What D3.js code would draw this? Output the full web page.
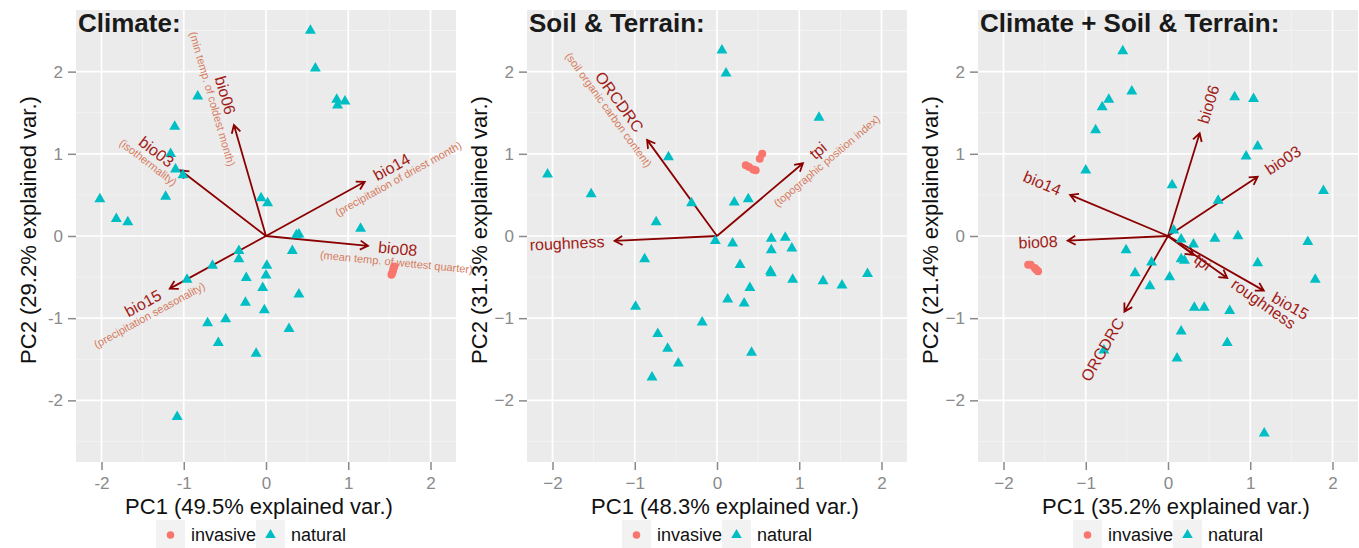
<!DOCTYPE html>
<html>
<head>
<meta charset="utf-8">
<script src="https://cdn.jsdelivr.net/npm/d3@7"></script>
<style>
  body { margin: 0; background: #fff; }
  svg { font-family: "Liberation Sans", Arial, sans-serif; }
</style>
</head>
<body>
<div id="chart"></div>
<script>
// ---- data ----
const panelTitles = ['Climate:', 'Soil & Terrain:', 'Climate + Soil & Terrain:'];
const pc1Titles = ['PC1 (49.5% explained var.)', 'PC1 (48.3% explained var.)', 'PC1 (35.2% explained var.)'];
const pc2Titles = ['PC2 (29.2% explained var.)', 'PC2 (31.3% explained var.)', 'PC2 (21.4% explained var.)'];
const tickValues = [-2, -1, 0, 1, 2];
const tickLabelsHyphen = ['-2', '-1', '0', '1', '2'];
const tickLabelsMinus = ['\u22122', '\u22121', '0', '1', '2'];
const groups = ['invasive', 'natural'];
const groupColors = ['#F8766D', '#00BFC4'];

const climateInvasive = [[1.56, -0.37], [1.55, -0.39], [1.545, -0.42], [1.535, -0.45], [1.525, -0.47]];
const climateNatural = [
    [0.54, 2.50], [0.60, 2.04], [0.86, 1.66], [0.96, 1.64], [0.87, 1.59], [-0.83, 1.70],
    [-1.11, 1.33], [-1.16, 1.00], [-1.10, 0.81], [-1.01, 0.74], [-1.22, 0.48], [-2.02, 0.45],
    [-1.82, 0.21], [-1.68, 0.17], [-0.06, 0.46], [0.02, 0.40], [1.15, 0.09], [0.37, 0.01],
    [0.40, 0.02], [0.32, -0.18], [-0.33, -0.18], [-0.33, -0.28], [-0.65, -0.36], [0.01, -0.36],
    [0.00, -0.48], [-0.24, -0.51], [-0.96, -0.53], [-0.04, -0.63], [0.40, -0.71], [-0.25, -0.81],
    [-0.02, -0.90], [-0.71, -1.06], [-0.49, -1.01], [0.28, -1.13], [-0.58, -1.30], [-0.12, -1.43],
    [-1.08, -2.20]
];
const climateArrows = [
    { name: 'bio06', desc: '(min temp. of coldest month)', x: -0.39, y: 1.35 },
    { name: 'bio03', desc: '(isothermality)', x: -1.04, y: 0.80 },
    { name: 'bio14', desc: '(precipitation of driest month)', x: 1.20, y: 0.66 },
    { name: 'bio08', desc: '(mean temp. of wettest quarter)', x: 1.24, y: -0.12 },
    { name: 'bio15', desc: '(precipitation seasonality)', x: -1.17, y: -0.64 }
];

const soilInvasive = [[0.55, 1.00], [0.52, 0.94], [0.35, 0.86], [0.39, 0.84], [0.44, 0.81], [0.47, 0.80]];
const soilNatural = [
    [0.06, 2.26], [0.11, 1.98], [1.24, 1.44], [-2.06, 0.75], [-1.53, 0.51], [-0.59, 0.96],
    [-0.31, 0.40], [-0.74, 0.17], [0.21, 0.41], [0.38, 0.45], [-0.02, -0.06], [0.19, -0.09],
    [0.66, -0.03], [0.83, -0.02], [0.66, -0.17], [0.91, -0.15], [-0.88, -0.28], [0.28, -0.35],
    [0.65, -0.43], [0.66, -0.45], [1.83, -0.46], [0.92, -0.53], [1.29, -0.55], [1.52, -0.60],
    [0.40, -0.63], [0.13, -0.77], [0.33, -0.82], [-0.99, -0.86], [-0.18, -1.05], [-0.72, -1.19],
    [-0.60, -1.37], [-0.47, -1.55], [-0.79, -1.72], [0.42, -1.42]
];
const soilArrows = [
    { name: 'ORCDRC', desc: '(soil organic carbon content)', x: -0.85, y: 1.17 },
    { name: 'tpi', desc: '(topographic position index)', x: 1.045, y: 0.885 },
    { name: 'roughness', desc: '', x: -1.245, y: -0.06 }
];

const bothInvasive = [[-1.70, -0.35], [-1.67, -0.35], [-1.62, -0.39], [-1.60, -0.41], [-1.58, -0.43]];
const bothNatural = [
    [-0.55, 2.25], [-0.44, 1.76], [-0.72, 1.66], [-0.80, 1.57], [-0.88, 1.29], [-1.00, 0.80],
    [0.81, 1.69], [1.04, 1.67], [1.09, 1.09], [0.95, 0.97], [0.05, 0.62], [0.61, 0.43],
    [1.89, 0.55], [0.07, 0.07], [0.16, -0.04], [0.31, -0.10], [0.57, -0.03], [0.85, 0.00],
    [1.70, -0.07], [-0.51, -0.17], [-0.20, -0.32], [0.16, -0.28], [0.20, -0.30], [1.09, -0.33],
    [-0.40, -0.45], [0.02, -0.50], [1.79, -0.53], [-0.22, -0.61], [0.32, -0.87], [0.44, -0.87],
    [0.75, -0.91], [0.16, -1.16], [0.72, -1.30], [0.11, -1.49], [-0.78, -1.39], [1.17, -2.40]
];
const bothArrows = [
    { name: 'bio06', desc: '', x: 0.385, y: 1.25 },
    { name: 'bio03', desc: '', x: 1.09, y: 0.72 },
    { name: 'bio14', desc: '', x: -1.19, y: 0.50 },
    { name: 'bio08', desc: '', x: -1.22, y: -0.057 },
    { name: 'tpi', desc: '', x: 0.31, y: -0.23 },
    { name: 'roughness', desc: '', x: 0.72, y: -0.51 },
    { name: 'bio15', desc: '', x: 1.165, y: -0.665 },
    { name: 'ORCDRC', desc: '', x: -0.53, y: -0.92 }
];

// ---- layout ----
const W = 1359, H = 548;
const plotLefts = [76, 527, 978];
const plotTop = 10, plotW = 380, plotH = 452;
const titleShift = [-7, 8, 8];
const greyText = '#8A8A8A';

const svg = d3.select('#chart').append('svg')
    .attr('width', W)
    .attr('height', H);

const panels = [
    { inv: climateInvasive, nat: climateNatural, arrows: climateArrows, ticks: tickLabelsHyphen },
    { inv: soilInvasive, nat: soilNatural, arrows: soilArrows, ticks: tickLabelsMinus },
    { inv: bothInvasive, nat: bothNatural, arrows: bothArrows, ticks: tickLabelsMinus }
];

panels.forEach((p, i) => drawPanel(p, i));

function drawPanel(p, i) {
    const left = plotLefts[i];
    const x = d3.scaleLinear().domain([-2.31, 2.31]).range([left, left + plotW]);
    const y = d3.scaleLinear().domain([-2.75, 2.75]).range([plotTop + plotH, plotTop]);
    const g = svg.append('g');

    // panel background
    g.append('rect')
        .attr('x', left).attr('y', plotTop)
        .attr('width', plotW).attr('height', plotH)
        .attr('fill', '#EBEBEB');

    // minor grid at the half steps
    const xMinor = d3.range(-2.5, 2.6, 1).filter(v => v > -2.31 && v < 2.31);
    const yMinor = d3.range(-2.5, 2.6, 1);
    g.selectAll('.xminor').data(xMinor).join('line')
        .attr('x1', d => x(d)).attr('x2', d => x(d))
        .attr('y1', plotTop).attr('y2', plotTop + plotH)
        .attr('stroke', '#F5F5F5').attr('stroke-width', 0.8);
    g.selectAll('.yminor').data(yMinor).join('line')
        .attr('x1', left).attr('x2', left + plotW)
        .attr('y1', d => y(d)).attr('y2', d => y(d))
        .attr('stroke', '#F5F5F5').attr('stroke-width', 0.8);

    // major grid
    g.selectAll('.xmajor').data(tickValues).join('line')
        .attr('x1', d => x(d)).attr('x2', d => x(d))
        .attr('y1', plotTop).attr('y2', plotTop + plotH)
        .attr('stroke', '#fff').attr('stroke-width', 1.7);
    g.selectAll('.ymajor').data(tickValues).join('line')
        .attr('x1', left).attr('x2', left + plotW)
        .attr('y1', d => y(d)).attr('y2', d => y(d))
        .attr('stroke', '#fff').attr('stroke-width', 1.7);

    // axes
    const xAxis = d3.axisBottom(x).tickValues(tickValues).tickSize(8).tickPadding(7)
        .tickFormat((d, k) => p.ticks[k]);
    const yAxis = d3.axisLeft(y).tickValues(tickValues).tickSize(8).tickPadding(5)
        .tickFormat((d, k) => p.ticks[k]);

    const xg = g.append('g').attr('transform', `translate(0,${plotTop + plotH})`).call(xAxis);
    const yg = g.append('g').attr('transform', `translate(${left},0)`).call(yAxis);
    [xg, yg].forEach(ax => {
        ax.select('.domain').remove();
        ax.selectAll('.tick line').attr('stroke', greyText).attr('stroke-width', 1.5);
        ax.selectAll('.tick text').attr('fill', greyText).style('font-size', '17px')
            .style('font-family', '"Liberation Sans", Arial, sans-serif');
    });

    // axis titles
    const cx = left + plotW / 2 + titleShift[i];
    g.append('text')
        .attr('x', cx).attr('y', 514)
        .attr('text-anchor', 'middle')
        .style('font-size', '22px')
        .attr('fill', '#111')
        .text(pc1Titles[i]);
    g.append('text')
        .attr('transform', `translate(${left - 40},230) rotate(-90)`)
        .attr('text-anchor', 'middle')
        .style('font-size', '22px')
        .attr('fill', '#111')
        .text(pc2Titles[i]);

    // arrows (drawn under the points, like ggbiplot)
    const x0 = x(0), y0 = y(0);
    const head = 9, spread = Math.PI / 6;
    g.selectAll('.arrow').data(p.arrows).join('path')
        .attr('class', 'arrow')
        .attr('d', d => {
            const x1 = x(d.x), y1 = y(d.y);
            const a = Math.atan2(y1 - y0, x1 - x0);
            const hx1 = x1 - head * Math.cos(a - spread), hy1 = y1 - head * Math.sin(a - spread);
            const hx2 = x1 - head * Math.cos(a + spread), hy2 = y1 - head * Math.sin(a + spread);
            return `M${x0},${y0}L${x1},${y1}M${hx1},${hy1}L${x1},${y1}L${hx2},${hy2}`;
        })
        .attr('fill', 'none')
        .attr('stroke', '#8B0000')
        .attr('stroke-width', 1.8);

    // points
    g.selectAll('.nat').data(p.nat).join('path')
        .attr('transform', d => `translate(${x(d[0])},${y(d[1])})`)
        .attr('d', d3.symbol(d3.symbolTriangle, 52))
        .attr('fill', groupColors[1]);
    g.selectAll('.inv').data(p.inv).join('circle')
        .attr('cx', d => x(d[0])).attr('cy', d => y(d[1]))
        .attr('r', 4)
        .attr('fill', groupColors[0]);

    // variable labels, rotated along their arrow
    p.arrows.forEach(d => {
        const ax = x(d.x * 1.1), ay = y(d.y * 1.1);
        const ang = Math.atan(d.y / d.x) * 180 / Math.PI;
        const pos = d.x > 0;
        const lg = g.append('g').attr('transform', `translate(${ax},${ay}) rotate(${-ang})`);
        const t = lg.append('text')
            .attr('x', 0).attr('y', 0).attr('dy', '0.35em')
            .attr('text-anchor', pos ? 'start' : 'end')
            .style('font-size', '16px')
            .attr('fill', '#A11B17')
            .text(d.name);
        if (d.desc) {
            const w = t.node().getComputedTextLength();
            lg.append('text')
                .attr('x', pos ? w / 2 : -w / 2).attr('y', 13.5).attr('dy', '0.35em')
                .attr('text-anchor', 'middle')
                .style('font-size', '11px')
                .attr('fill', '#D67B5E')
                .text(d.desc);
        }
    });

    // panel title
    g.append('text')
        .attr('x', left + 2).attr('y', 32)
        .style('font-size', '26px')
        .style('font-weight', 'bold')
        .attr('fill', '#1A1A1A')
        .text(panelTitles[i]);

    // legend
    const L = cx - 103;
    const keyX = [L, L + 100];
    const lg = g.append('g');
    groups.forEach((name, k) => {
        lg.append('rect')
            .attr('x', keyX[k]).attr('y', 520)
            .attr('width', 29).attr('height', 29)
            .attr('fill', '#F2F2F2');
        if (k === 0) {
            lg.append('circle')
                .attr('cx', keyX[k] + 14.5).attr('cy', 535).attr('r', 3.8)
                .attr('fill', groupColors[k]);
        } else {
            lg.append('path')
                .attr('transform', `translate(${keyX[k] + 14.5},535)`)
                .attr('d', d3.symbol(d3.symbolTriangle, 48))
                .attr('fill', groupColors[k]);
        }
        lg.append('text')
            .attr('x', keyX[k] + 35).attr('y', 541)
            .style('font-size', '18px')
            .attr('fill', '#111')
            .text(name);
    });
}
</script>
</body>
</html>
